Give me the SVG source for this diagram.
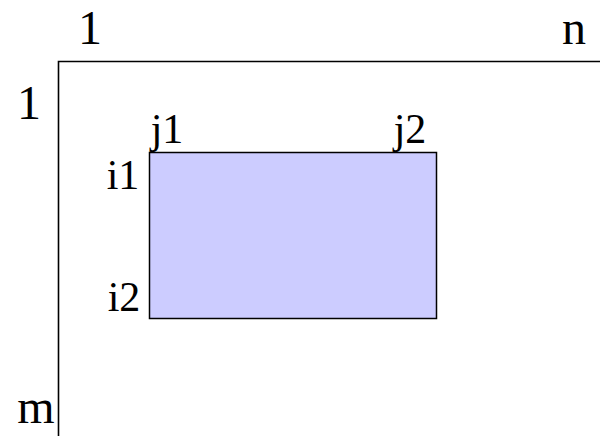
<svg xmlns="http://www.w3.org/2000/svg" width="600" height="436" viewBox="0 0 600 436">
<style>
text{font-family:"Liberation Serif","Times New Roman",serif;font-size:48px;fill:#000;text-anchor:middle}
text.s{font-size:42px}
.ax{stroke:#000;stroke-width:1.6;fill:none}
</style>
<rect width="600" height="436" fill="#fff"/>
<g id="axes">
<path class="ax" d="M58.5,436 V61.5 H600"/>
</g>
<g id="block">
<rect x="149.5" y="152.5" width="287" height="166" fill="#ccccff" stroke="#000" stroke-width="1.5"/>
</g>
<g id="labels">
<text x="90" y="43.5">1</text>
<text x="574" y="43.5">n</text>
<text x="29" y="118.5">1</text>
<text x="36" y="422.5">m</text>
<text class="s" x="167" y="143">j1</text>
<text class="s" x="410" y="143">j2</text>
<text class="s" x="123" y="189">i1</text>
<text class="s" x="124" y="311">i2</text>
</g>
</svg>
